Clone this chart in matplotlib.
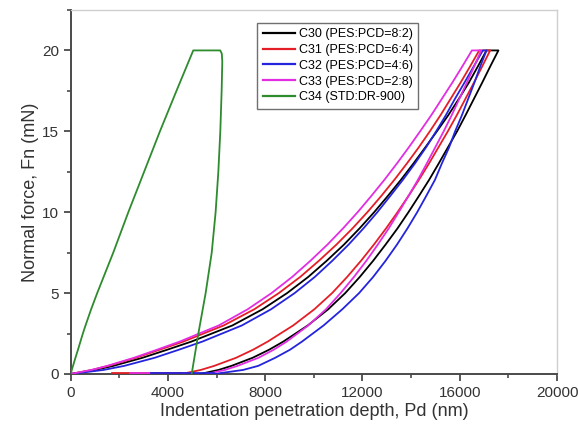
import numpy as np
import matplotlib
matplotlib.use('Agg')
import matplotlib.pyplot as plt
from matplotlib.ticker import MultipleLocator

plt.rcParams['font.family'] = ['Liberation Sans', 'DejaVu Sans']

labels = ['C30 (PES:PCD=8:2)', 'C31 (PES:PCD=6:4)', 'C32 (PES:PCD=4:6)',
          'C33 (PES:PCD=2:8)', 'C34 (STD:DR-900)']
colors = ['black', '#e41e26', '#2424dc', '#e22ee2', '#2e8b2e']

# loading branch: force (mN) vs depth (nm)
load_F = [0, 0.25, 0.5, 1, 1.5, 2, 3, 4, 5, 6, 7, 8, 9, 10, 11, 12, 13, 14, 15, 16, 17, 18, 19, 20]
c30_load_d = [0, 1000, 1750, 2950, 3970, 4960, 6650, 7890, 8900, 9770, 10530, 11240, 11880, 12480,
              13040, 13580, 14090, 14580, 15060, 15530, 15960, 16370, 16740, 17100]
c31_load_d = [0, 880, 1550, 2680, 3660, 4630, 6290, 7550, 8560, 9440, 10210, 10930, 11590, 12200,
              12770, 13310, 13820, 14310, 14770, 15210, 15620, 16030, 16420, 16800]
c32_load_d = [0, 1350, 2200, 3450, 4450, 5410, 7040, 8240, 9210, 10040, 10760, 11430, 12040, 12610,
              13140, 13660, 14150, 14610, 15030, 15430, 15800, 16190, 16570, 16950]
c33_load_d = [0, 850, 1500, 2600, 3550, 4480, 6090, 7280, 8260, 9110, 9860, 10560, 11200, 11800,
              12360, 12900, 13410, 13900, 14370, 14830, 15260, 15690, 16100, 16500]

# unloading branch
unload_F = [20, 19, 18, 17, 16, 15, 14, 13, 12, 11, 10, 9, 8, 7, 6, 5, 4, 3, 2, 1.5, 1, 0.5, 0.25, 0]
c30_unload_d = [17590, 17250, 16920, 16580, 16240, 15890, 15510, 15130, 14740, 14320, 13890, 13440,
                12950, 12440, 11890, 11290, 10590, 9750, 8740, 8160, 7480, 6610, 6080, 5320]
c31_unload_d = [17250, 16920, 16580, 16230, 15880, 15510, 15120, 14730, 14320, 13890, 13440, 12970,
                12470, 11940, 11370, 10750, 10020, 9150, 8100, 7500, 6800, 5900, 5350, 4560]
c32_unload_d = [17100, 16840, 16600, 16345, 16090, 15810, 15560, 15260, 14980, 14620, 14250, 13850,
                13420, 12950, 12440, 11860, 11170, 10400, 9510, 9020, 8410, 7710, 7090, 5900]
c33_unload_d = [16880, 16590, 16290, 15980, 15670, 15340, 14990, 14640, 14280, 13890, 13490, 13080,
                12630, 12160, 11650, 11100, 10500, 9770, 8880, 8350, 7720, 6860, 6340, 5590]

# tip retraction at zero force
tail_F = [0.04, 0.04]
c31_tail_d = [4560, 1700]
c33_tail_d = [3300, 2450]
c32_tail_d = [5900, 3300]

# STD:DR-900 reference sample
c34_load_F = [0, 0.25, 0.5, 1, 1.5, 2, 2.5, 3, 4, 5, 7.5, 10, 12.5, 15, 17.5, 20]
c34_load_d = [0, 45, 95, 195, 300, 400, 500, 610, 840, 1090, 1750, 2370, 3020, 3670, 4350, 5040]
c34_unload_F = [20, 19.8, 19.3, 17.5, 15, 12.5, 10, 7.5, 5, 2.5, 0]
c34_unload_d = [6150, 6215, 6235, 6208, 6153, 6072, 5960, 5800, 5550, 5250, 4976]

fig = plt.figure(figsize=(5.78, 4.32), dpi=100)
ax = fig.add_axes([0.1223, 0.1343, 0.8414, 0.8426])

loads = [c30_load_d, c31_load_d, c32_load_d, c33_load_d]
unloads = [c30_unload_d, c31_unload_d, c32_unload_d, c33_unload_d]
for i in range(4):
    d = loads[i] + unloads[i]
    f = load_F + unload_F
    ax.plot(d, f, color=colors[i], lw=1.3, label=labels[i], zorder=3)

ax.plot(c31_tail_d, tail_F, color=colors[1], lw=1.3, zorder=3)
ax.plot(c33_tail_d, tail_F, color=colors[3], lw=1.3, zorder=3)
ax.plot(c32_tail_d, tail_F, color=colors[2], lw=1.3, zorder=3)

ax.plot(c34_load_d + c34_unload_d, c34_load_F + c34_unload_F, color=colors[4], lw=1.3,
        label=labels[4], zorder=3)

ax.set_xlim(0, 20000)
ax.set_ylim(0, 22.5)
ax.xaxis.set_major_locator(MultipleLocator(4000))
ax.xaxis.set_minor_locator(MultipleLocator(2000))
ax.yaxis.set_major_locator(MultipleLocator(5))
ax.yaxis.set_minor_locator(MultipleLocator(2.5))

for s in ['left', 'bottom']:
    ax.spines[s].set_color('#4a4a4a')
    ax.spines[s].set_linewidth(1.4)
for s in ['top', 'right']:
    ax.spines[s].set_color('#cfcfcf')
    ax.spines[s].set_linewidth(1.0)
ax.tick_params(which='both', direction='out', colors='#4a4a4a', labelcolor='#333333',
               labelsize=11, top=False, right=False)
ax.tick_params(which='major', length=5, width=1.3)
ax.tick_params(which='minor', length=3, width=1.2)

ax.set_xlabel('Indentation penetration depth, Pd (nm)', fontsize=13, color='#333333', labelpad=2)
ax.set_ylabel('Normal force, Fn (mN)', fontsize=13, color='#333333', labelpad=2)

leg = ax.legend(loc='upper left', bbox_to_anchor=(0.383, 0.965), borderaxespad=0,
                fontsize=9, fancybox=False, framealpha=1, edgecolor='#707070',
                handlelength=2.6, handletextpad=0.3, labelspacing=0.3, borderpad=0.45)
leg.get_frame().set_linewidth(1.0)
for line in leg.get_lines():
    line.set_linewidth(1.6)

fig.savefig('out.png', dpi=100)
